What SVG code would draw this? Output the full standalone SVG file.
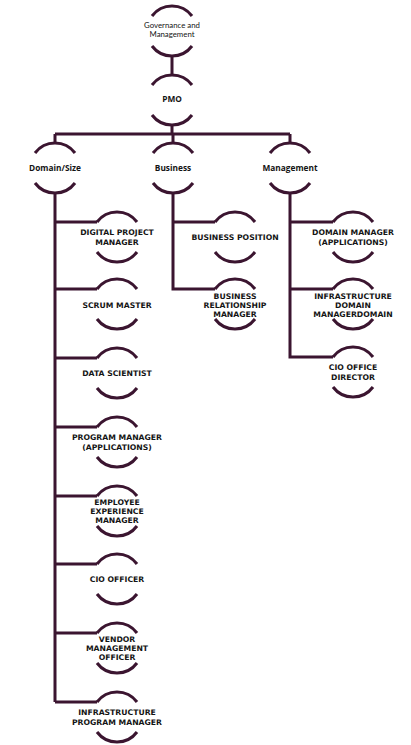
<svg xmlns="http://www.w3.org/2000/svg" xmlns:xlink="http://www.w3.org/1999/xlink" width="411" height="745" viewBox="0 0 411 745">
<style>
.ln{fill:none;stroke:#3b1530;stroke-width:3;stroke-linecap:butt}
.t{font-family:"Open Sans",Lato,"Liberation Sans",sans-serif;font-size:8px;fill:#141414;text-anchor:middle}
.top{font-family:Lato,"Open Sans","Liberation Sans",sans-serif;font-weight:normal;font-size:7.8px}
.h{font-weight:bold;font-size:8.3px}
.leaf{font-family:"DejaVu Sans","Open Sans",sans-serif;font-weight:bold;font-size:7.7px}
</style>
<defs>
<g id="ring">
<path class="ln" d="M-20,-15 A25,25 0 0 1 20,-15"/>
<path class="ln" d="M-20,15 A25,25 0 0 0 20,15"/>
</g>
</defs>
<rect width="411" height="745" fill="#ffffff"/>
<g id="connectors" class="ln">
<path d="M172,56 V75"/>
<path d="M172,125 V134"/>
<path d="M55,134 H290"/>
<path d="M55,134 V143 M173,134 V143 M290,134 V143"/>
<path d="M55,193 V702 M55,222 H97 M55,289 H97 M55,358 H97 M55,427 H97 M55,496 H97 M55,564 H97 M55,633 H97 M55,702 H97"/>
<path d="M173,193 V289 H215 M173,222 H215"/>
<path d="M290,193 V357 H333 M290,222 H333 M290,289 H333"/>
</g>
<g id="n-governance"><use xlink:href="#ring" x="172" y="31"/><text class="t top" x="172" y="28">Governance and</text><text class="t top" x="172" y="37">Management</text></g>
<g id="n-pmo"><use xlink:href="#ring" x="172" y="100"/><text class="t h" x="172" y="102">PMO</text></g>
<g id="n-domain"><use xlink:href="#ring" x="55" y="168"/><text class="t h" x="55" y="171">Domain/Size</text></g>
<g id="n-business"><use xlink:href="#ring" x="173" y="168"/><text class="t h" x="173" y="171">Business</text></g>
<g id="n-management"><use xlink:href="#ring" x="290" y="168"/><text class="t h" x="290" y="171">Management</text></g>
<g id="n-digital"><use xlink:href="#ring" x="117" y="237"/><text class="t leaf" x="117" y="235.3">DIGITAL PROJECT</text><text class="t leaf" x="117" y="244.7">MANAGER</text></g>
<g id="n-scrum"><use xlink:href="#ring" x="117" y="304"/><text class="t leaf" x="117" y="308">SCRUM MASTER</text></g>
<g id="n-data"><use xlink:href="#ring" x="117" y="373"/><text class="t leaf" x="117" y="376">DATA SCIENTIST</text></g>
<g id="n-program"><use xlink:href="#ring" x="117" y="442"/><text class="t leaf" x="117" y="440.3">PROGRAM MANAGER</text><text class="t leaf" x="117" y="449.7">(APPLICATIONS)</text></g>
<g id="n-employee"><use xlink:href="#ring" x="117" y="511"/><text class="t leaf" x="117" y="504.6">EMPLOYEE</text><text class="t leaf" x="117" y="514">EXPERIENCE</text><text class="t leaf" x="117" y="523.4">MANAGER</text></g>
<g id="n-cio"><use xlink:href="#ring" x="117" y="579"/><text class="t leaf" x="117" y="582">CIO OFFICER</text></g>
<g id="n-vendor"><use xlink:href="#ring" x="117" y="648"/><text class="t leaf" x="117" y="641.6">VENDOR</text><text class="t leaf" x="117" y="651">MANAGEMENT</text><text class="t leaf" x="117" y="660.4">OFFICER</text></g>
<g id="n-infraprog"><use xlink:href="#ring" x="117" y="717"/><text class="t leaf" x="117" y="715.3">INFRASTRUCTURE</text><text class="t leaf" x="117" y="724.7">PROGRAM MANAGER</text></g>
<g id="n-bizpos"><use xlink:href="#ring" x="235" y="237"/><text class="t leaf" x="235" y="240">BUSINESS POSITION</text></g>
<g id="n-bizrel"><use xlink:href="#ring" x="235" y="304"/><text class="t leaf" x="235" y="298.6">BUSINESS</text><text class="t leaf" x="235" y="308">RELATIONSHIP</text><text class="t leaf" x="235" y="317.4">MANAGER</text></g>
<g id="n-dommgr"><use xlink:href="#ring" x="353" y="237"/><text class="t leaf" x="353" y="235.3">DOMAIN MANAGER</text><text class="t leaf" x="353" y="244.7">(APPLICATIONS)</text></g>
<g id="n-infradom"><use xlink:href="#ring" x="353" y="304"/><text class="t leaf" x="353" y="298.6">INFRASTRUCTURE</text><text class="t leaf" x="353" y="308">DOMAIN</text><text class="t leaf" x="353" y="317.4">MANAGERDOMAIN</text></g>
<g id="n-ciodir"><use xlink:href="#ring" x="353" y="372"/><text class="t leaf" x="353" y="370.3">CIO OFFICE</text><text class="t leaf" x="353" y="379.7">DIRECTOR</text></g>
</svg>
